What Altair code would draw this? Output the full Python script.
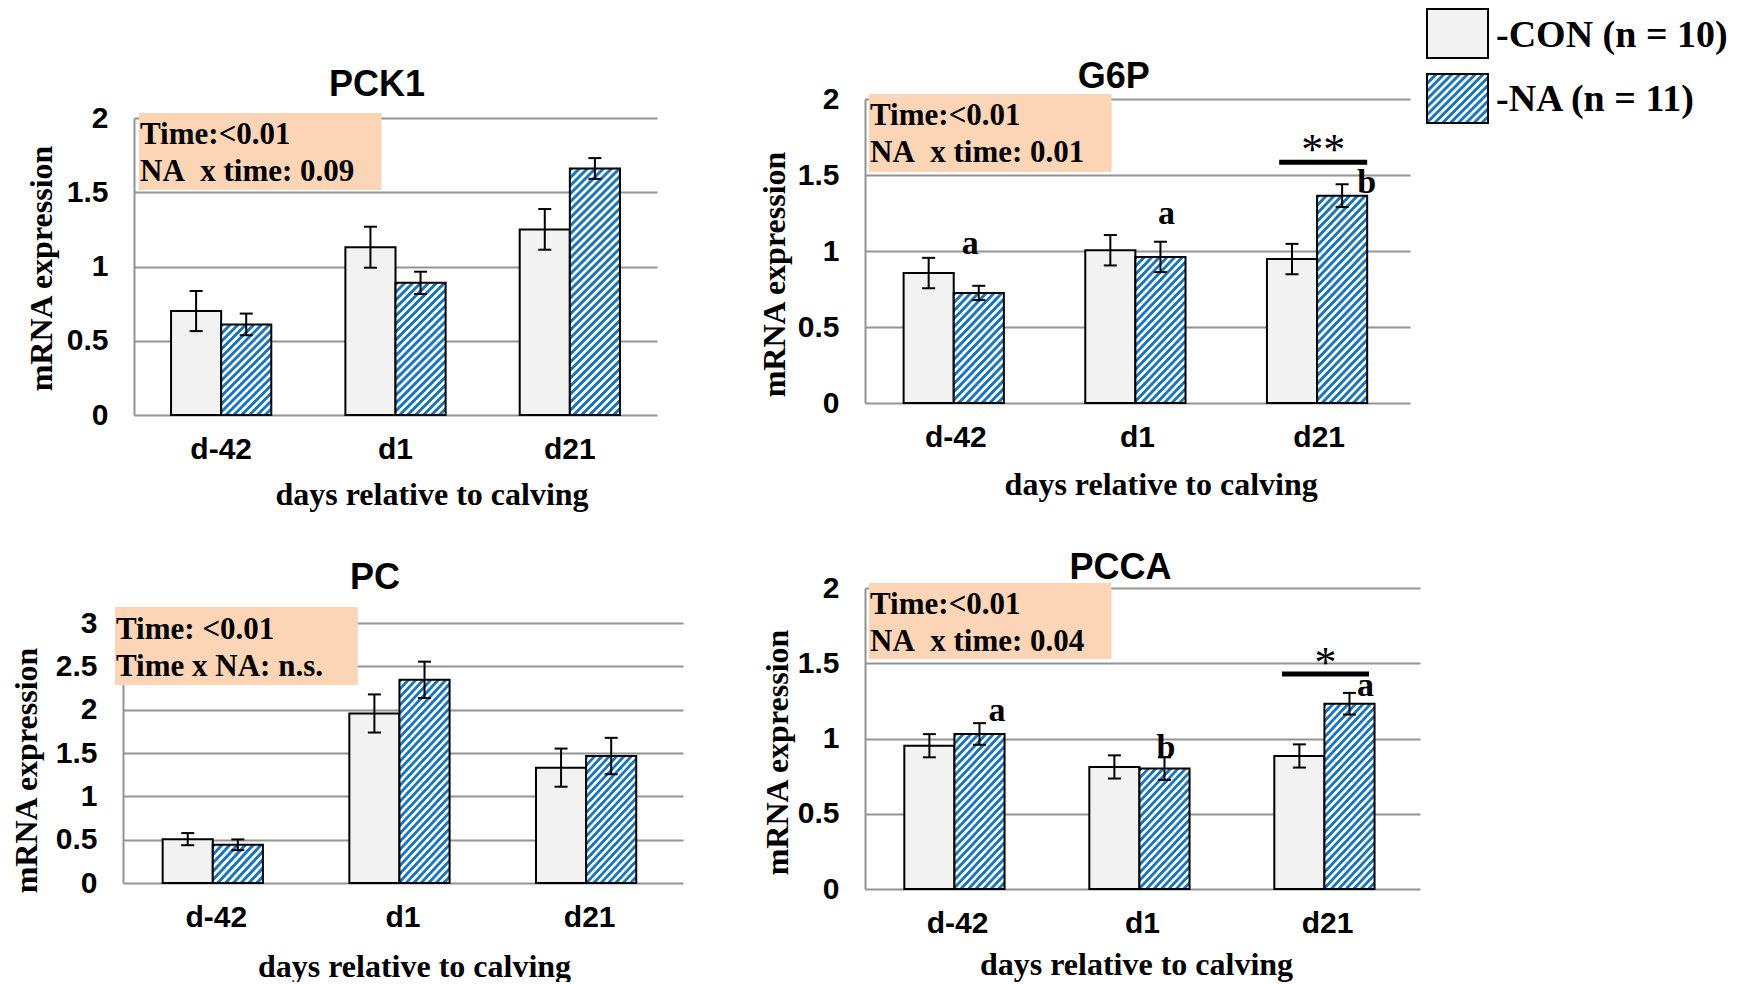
import altair as alt
import pandas as pd

# ---------------- data ----------------
categories = ["d-42", "d1", "d21"]
groups = ["CON", "NA"]
legend_labels = ["-CON (n = 10)", "-NA (n = 11)"]

pck1_con = [0.70, 1.13, 1.25]
pck1_con_se = [0.135, 0.138, 0.137]
pck1_na = [0.61, 0.89, 1.66]
pck1_na_se = [0.073, 0.075, 0.070]
pck1_stats = ["Time:<0.01", "NA\u00a0 x time: 0.09"]

g6p_con = [0.855, 1.005, 0.947]
g6p_con_se = [0.10, 0.10, 0.10]
g6p_na = [0.724, 0.961, 1.364]
g6p_na_se = [0.047, 0.10, 0.075]
g6p_stats = ["Time:<0.01", "NA\u00a0 x time: 0.01"]
g6p_letters = ["a", "a", "b"]
g6p_star = "**"

pc_con = [0.506, 1.956, 1.331]
pc_con_se = [0.07, 0.22, 0.22]
pc_na = [0.441, 2.344, 1.465]
pc_na_se = [0.062, 0.21, 0.21]
pc_stats = ["Time: <0.01", "Time x NA: n.s."]

pcca_con = [0.952, 0.811, 0.884]
pcca_con_se = [0.077, 0.077, 0.077]
pcca_na = [1.030, 0.800, 1.231]
pcca_na_se = [0.072, 0.075, 0.072]
pcca_stats = ["Time:<0.01", "NA\u00a0 x time: 0.04"]
pcca_letters = ["a", "b", "a"]
pcca_star = "*"

ticks_2 = [0, 0.5, 1, 1.5, 2]
ticks_3 = [0, 0.5, 1, 1.5, 2, 2.5, 3]

# ---------------- style ----------------
SANS = "Liberation Sans"
SERIF = "Liberation Serif"
GRID = "#939393"
CON_FILL = "#f2f2f2"
BLUE = "#1a76bd"
PEACH = "#fbd5b5"
PI = 0.425
PO = 0.2125


def hatch(w, h, period=8.0):
    """Diagonal blue/white stripes as a linear gradient in the bar's bounding box."""
    k = (w + h) / (w * w + h * h)
    n = max(1, int(round((w + h) / period)))
    stops = []
    for i in range(n):
        b = i / n
        stops += [
            {"offset": b, "color": BLUE},
            {"offset": b + 0.40 / n, "color": BLUE},
            {"offset": b + 0.52 / n, "color": "#ffffff"},
            {"offset": b + 0.88 / n, "color": "#ffffff"},
        ]
    stops.append({"offset": 1, "color": BLUE})
    return {"gradient": "linear", "x1": 0, "y1": 0, "x2": w * k, "y2": h * k, "stops": stops}


def panel(title, con, con_se, na, na_se, stats, ymax, tick_vals, cfg, letters=None, star=None):
    rows = []
    for i, c in enumerate(categories):
        for g, v, s in (("CON", con[i], con_se[i]), ("NA", na[i], na_se[i])):
            rows.append({"cat": c, "grp": g, "val": v, "lo": v - s, "hi": v + s,
                         "let": (letters[i] if (letters and g == "NA") else "")})
    df = pd.DataFrame(rows)

    xscale = alt.Scale(domain=categories, range=cfg["xr"], paddingInner=PI, paddingOuter=PO)
    yscale = alt.Scale(domain=[0, ymax], range=cfg["yr"], nice=False)
    xaxis = alt.Axis(
        title="days relative to calving", ticks=False, tickSize=0, domain=False, grid=False,
        labelAngle=0, labelFont=SANS, labelFontSize=30, labelFontWeight="bold", labelColor="black",
        labelPadding=34, labelBaseline="middle",
        titleFont=SERIF, titleFontSize=32, titleFontWeight="bold", titleColor="black",
        titleX=cfg["xtx"], titleY=cfg["xty"], titleAlign="center", titleBaseline="middle",
    )
    yaxis = alt.Axis(
        title="mRNA expression", values=tick_vals, format="~g", offset=cfg["yoff"],
        ticks=False, tickSize=0, domain=True, domainColor=GRID, domainWidth=2,
        grid=True, gridColor=GRID, gridWidth=2,
        labelFont=SANS, labelFontSize=30, labelFontWeight="bold", labelColor="black", labelPadding=26,
        titleFont=SERIF, titleFontSize=32, titleFontWeight="bold", titleColor="black",
        titleX=cfg["ytx"], titleY=cfg["yty"], titleAngle=270, titleAlign="center", titleBaseline="middle",
    )
    X = alt.X("cat:N", scale=xscale, axis=xaxis, sort=categories)
    XO = alt.XOffset("grp:N", scale=alt.Scale(domain=groups, paddingInner=0, paddingOuter=0), sort=groups)

    def Y(f):
        return alt.Y(f"{f}:Q", scale=yscale, axis=yaxis)

    base = alt.Chart(df)
    one = alt.Chart(pd.DataFrame({"k": [0]}))
    layers = []

    bx0, bx1, by0, by1 = cfg["box"]
    layers.append(one.mark_rect(fill=PEACH).encode(
        x=alt.value(bx0), x2=alt.value(bx1), y=alt.value(by0), y2=alt.value(by1)))

    layers.append(base.transform_filter("datum.grp == 'CON'").mark_bar(
        fill=CON_FILL, stroke="black", strokeWidth=2).encode(x=X, xOffset=XO, y=Y("val")))

    L = cfg["xr"][1] - cfg["xr"][0]
    step = L / (len(categories) - PI + 2 * PO)
    barw = step * (1 - PI) / 2
    pxu = (cfg["yr"][0] - cfg["yr"][1]) / ymax
    for i, c in enumerate(categories):
        layers.append(base.transform_filter(f"datum.grp == 'NA' && datum.cat == '{c}'").mark_bar(
            fill=hatch(barw, na[i] * pxu), stroke="black", strokeWidth=2
        ).encode(x=X, xOffset=XO, y=Y("val")))

    layers.append(base.mark_rule(color="black", strokeWidth=2).encode(
        x=X, xOffset=XO, y=Y("lo"), y2="hi:Q"))
    for f in ("lo", "hi"):
        layers.append(base.mark_tick(color="black", size=13, thickness=2, opacity=1).encode(
            x=X, xOffset=XO, y=Y(f)))

    tx, ty = cfg["txt"]
    layers.append(one.mark_text(
        align="left", baseline="alphabetic", font=SERIF, fontSize=31, fontWeight="bold",
        color="black", lineHeight=37).encode(x=alt.value(tx), y=alt.value(ty), text=alt.value(stats)))

    if letters:
        for i, c in enumerate(categories):
            layers.append(base.transform_filter(f"datum.grp == 'NA' && datum.cat == '{c}'").mark_text(
                font=SERIF, fontSize=34, fontWeight="bold", color="black", baseline="middle",
                align="center", dx=cfg["ldx"][i], dy=cfg["ldy"][i]
            ).encode(x=X, xOffset=XO, y=Y("hi"), text="let:N"))
    if star:
        d21 = base.transform_filter(f"datum.grp == 'NA' && datum.cat == '{categories[2]}'")
        layers.append(d21.mark_text(
            text=star, font=SERIF, fontSize=44, color="black", baseline="middle", align="center",
            dx=cfg["sdx"], dy=cfg["sdy"]).encode(x=X, y=Y("hi")))
        layers.append(d21.mark_tick(
            color="black", opacity=1, size=cfg["lw"], thickness=5, xOffset=cfg["lx"], yOffset=cfg["ly"]
        ).encode(x=X, y=Y("hi")))

    return alt.layer(*layers).properties(
        width=cfg["width"], height=cfg["height"],
        title=alt.TitleParams(text=title, font=SANS, fontSize=36, fontWeight="bold", color="black",
                              anchor="middle", frame="group", baseline="middle",
                              offset=cfg["toff"], dx=cfg["tdx"]),
    )


pck1 = panel("PCK1", pck1_con, pck1_con_se, pck1_na, pck1_na_se, pck1_stats, 2, ticks_2, dict(
    width=523, height=316, xr=[0, 523], yr=[316, 19], yoff=0, tdx=-18.5, toff=-22,
    ytx=-93, yty=169, xtx=297.5, xty=79, box=(5, 247.6, 14, 91), txt=(6, 45)))

g6p = panel("G6P", g6p_con, g6p_con_se, g6p_na, g6p_na_se, g6p_stats, 2, ticks_2, dict(
    width=545, height=304, xr=[0, 545], yr=[304, 0], yoff=0, tdx=-23.7, toff=-29,
    ytx=-90.5, yty=175, xtx=295.7, xty=81, box=(4, 246.7, -5, 73), txt=(5, 26),
    ldx=[-8.5, 6, 24.6], ldy=[-42, -28, -1], sdx=4, sdy=-33, lw=88, lx=4, ly=-22),
    letters=g6p_letters, star=g6p_star)

pc = panel("PC", pc_con, pc_con_se, pc_na, pc_na_se, pc_stats, 3, ticks_3, dict(
    width=549, height=295, xr=[-11, 549], yr=[295, 35], yoff=11, tdx=-33.5, toff=-26,
    ytx=-97, yty=182, xtx=280, xty=83, box=(-19, 223.8, 19, 97), txt=(-18, 51)))

pcca = panel("PCCA", pcca_con, pcca_con_se, pcca_na, pcca_na_se, pcca_stats, 2, ticks_2, dict(
    width=555, height=301, xr=[0, 555], yr=[301, 0], yoff=0, tdx=-22, toff=-31,
    ytx=-88, yty=164, xtx=271, xty=75, box=(4, 246.6, -5, 71), txt=(5, 26),
    ldx=[17.5, 1.5, 16], ldy=[-12, -9, -7], sdx=-2, sdy=-29, lw=87, lx=-2, ly=-19),
    letters=pcca_letters, star=pcca_star)

# ---------------- legend ----------------
leg_df = pd.DataFrame({"label": legend_labels, "grp": groups, "sw": ["box", "box"]})
lxs = alt.Scale(domain=["box"], range=[-175, -114], paddingInner=0, paddingOuter=0)
lys = alt.Scale(domain=legend_labels, range=[-90, 24], paddingInner=0.246, paddingOuter=0)
LX = alt.X("sw:N", scale=lxs, axis=None)
LY = alt.Y("label:N", scale=lys, axis=None, sort=legend_labels)
leg_base = alt.Chart(leg_df)
legend = alt.layer(
    leg_base.transform_filter("datum.grp == 'CON'").mark_rect(
        fill=CON_FILL, stroke="black", strokeWidth=2).encode(x=LX, y=LY),
    leg_base.transform_filter("datum.grp == 'NA'").mark_rect(
        fill=hatch(61, 49), stroke="black", strokeWidth=2).encode(x=LX, y=LY),
    leg_base.mark_text(align="left", baseline="middle", dx=8, dy=2, font=SERIF, fontSize=38,
                       fontWeight="bold", color="black").encode(
        x=alt.X("sw:N", scale=lxs, axis=None, bandPosition=1), y=LY, text="label:N"),
).properties(width=10, height=24)

chart = alt.concat(
    pck1, g6p, legend, pc, pcca,
    columns=3, spacing={"row": 173, "column": 182}, bounds="flush",
).properties(padding={"left": 2, "top": 0, "right": 0, "bottom": 0},
             background="white").configure_view(stroke=None)

chart.save("out.html", embed_options={"renderer": "svg", "actions": False})
